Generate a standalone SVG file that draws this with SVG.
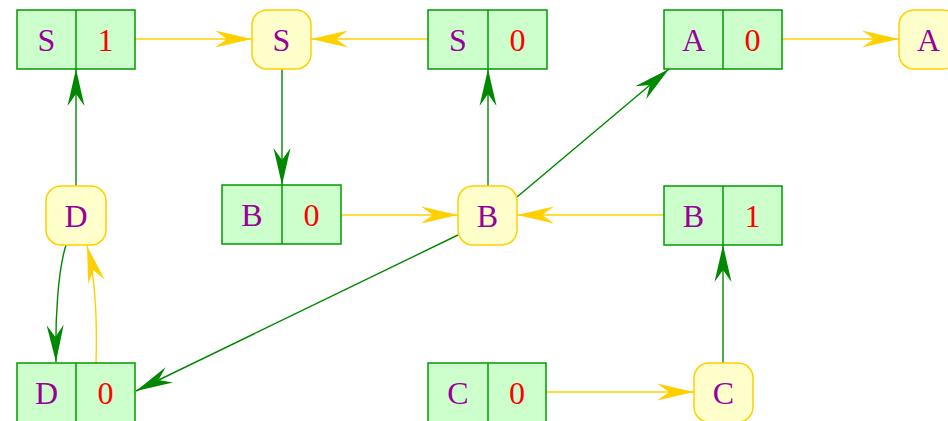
<svg xmlns="http://www.w3.org/2000/svg" width="948" height="421" viewBox="0 0 948 421">
<defs>
<style>
.box{fill:#ccffcc;stroke:#009900;stroke-width:1.5}
.div{stroke:#009900;stroke-width:1.5}
.node{fill:#ffffcc;stroke:#ffd000;stroke-width:1.5}
.t{font-family:"Liberation Serif",serif;font-size:32px;text-anchor:middle}
.l{fill:#990099}
.n{fill:#ff0000}
.g{stroke:#008800;stroke-width:1.4;fill:none}
.y{stroke:#ffd000;stroke-width:1.4;fill:none}
</style>
<marker id="ag" markerUnits="userSpaceOnUse" markerWidth="40" markerHeight="20" viewBox="-40 -10 40 20" refX="0" refY="0" orient="auto"><path d="M0,0 L-37,-8.5 L-25,0 L-37,8.5 z" fill="#008800"/></marker>
<marker id="ay" markerUnits="userSpaceOnUse" markerWidth="40" markerHeight="20" viewBox="-40 -10 40 20" refX="0" refY="0" orient="auto"><path d="M0,0 L-37,-8.5 L-25,0 L-37,8.5 z" fill="#ffd000"/></marker>
</defs>
<g id="connectors">
<path class="y" d="M135,39 L252,39" marker-end="url(#ay)"/>
<path class="y" d="M428,39 L311,39" marker-end="url(#ay)"/>
<path class="g" d="M282,69 L282,185" marker-end="url(#ag)"/>
<path class="g" d="M76,186 L76,69" marker-end="url(#ag)"/>
<path class="g" d="M488,186 L488,69" marker-end="url(#ag)"/>
<path class="g" d="M517,197 L669,69" marker-end="url(#ag)"/>
<path class="y" d="M782,39 L899,39" marker-end="url(#ay)"/>
<path class="y" d="M341,215 L458,215" marker-end="url(#ay)"/>
<path class="y" d="M664,215 L517,215" marker-end="url(#ay)"/>
<path class="g" d="M458,235 L136,391" marker-end="url(#ag)"/>
<path class="g" d="M66,245 C58,270 55,320 56,362" marker-end="url(#ag)"/>
<path class="y" d="M96,363 C97,330 96,280 87,246" marker-end="url(#ay)"/>
<path class="y" d="M546,392 L694,392" marker-end="url(#ay)"/>
<path class="g" d="M723,363 L723,245" marker-end="url(#ag)"/>
</g>
<g id="S1"><rect class="box" x="17" y="10" width="118" height="59"/><line class="div" x1="76" y1="10" x2="76" y2="69"/><text class="t l" x="46.5" y="50.5">S</text><text class="t n" x="105.5" y="50.5">1</text></g>
<g id="S"><rect class="node" x="252" y="10" width="59" height="59" rx="15"/><text class="t l" x="281.5" y="50.5">S</text></g>
<g id="S0"><rect class="box" x="428" y="10" width="119" height="59"/><line class="div" x1="488" y1="10" x2="488" y2="69"/><text class="t l" x="458" y="50.5">S</text><text class="t n" x="517.5" y="50.5">0</text></g>
<g id="A0"><rect class="box" x="664" y="10" width="118" height="59"/><line class="div" x1="723" y1="10" x2="723" y2="69"/><text class="t l" x="693.5" y="50.5">A</text><text class="t n" x="752.5" y="50.5">0</text></g>
<g id="A"><rect class="node" x="899" y="10" width="59" height="59" rx="15"/><text class="t l" x="928.5" y="50.5">A</text></g>
<g id="D"><rect class="node" x="46" y="186" width="60" height="59" rx="15"/><text class="t l" x="76" y="226.5">D</text></g>
<g id="B0"><rect class="box" x="222" y="185" width="119" height="59"/><line class="div" x1="282" y1="185" x2="282" y2="244"/><text class="t l" x="252" y="225.5">B</text><text class="t n" x="311.5" y="225.5">0</text></g>
<g id="B"><rect class="node" x="458" y="186" width="59" height="59" rx="15"/><text class="t l" x="487.5" y="226.5">B</text></g>
<g id="B1"><rect class="box" x="664" y="186" width="118" height="59"/><line class="div" x1="723" y1="186" x2="723" y2="245"/><text class="t l" x="693.5" y="226.5">B</text><text class="t n" x="752.5" y="226.5">1</text></g>
<g id="D0"><rect class="box" x="17" y="363" width="118" height="59"/><line class="div" x1="76" y1="363" x2="76" y2="422"/><text class="t l" x="46.5" y="403.5">D</text><text class="t n" x="105.5" y="403.5">0</text></g>
<g id="C0"><rect class="box" x="428" y="363" width="118" height="59"/><line class="div" x1="488" y1="363" x2="488" y2="422"/><text class="t l" x="458" y="403.5">C</text><text class="t n" x="517" y="403.5">0</text></g>
<g id="C"><rect class="node" x="694" y="363" width="59" height="59" rx="15"/><text class="t l" x="723.5" y="403.5">C</text></g>
</svg>
